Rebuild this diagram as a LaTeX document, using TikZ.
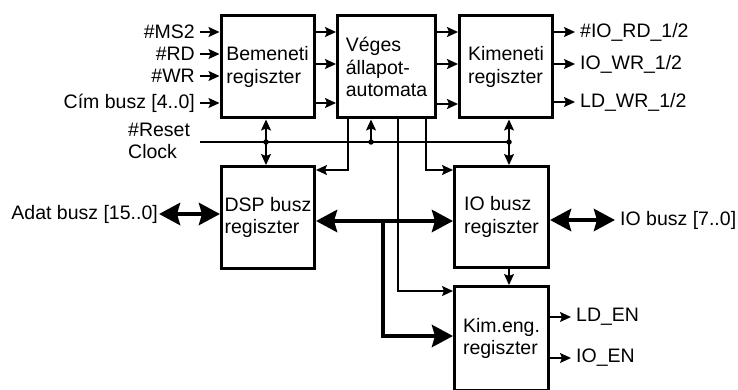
\documentclass[tikz,border=0pt]{standalone}
\usepackage{fontspec}
\setmainfont{Liberation Sans}
\usetikzlibrary{arrows.meta}
\newcommand\diagfont{\fontsize{19.5}{22.5}\selectfont}

\begin{document}
\begin{tikzpicture}[x=1pt, y=-1pt,
    reg/.style={draw, line width=3pt, align=left, inner sep=2pt, font=\diagfont},
    lbl/.style={inner xsep=5pt, inner ysep=1pt, font=\diagfont},
    sig/.style={-{Stealth[length=11pt,width=10pt,inset=2pt]}, line width=1.3pt},
    wire/.style={line width=1.3pt},
    busarr/.style={{Stealth[length=21pt,width=22pt,inset=3pt]}-{Stealth[length=21pt,width=22pt,inset=3pt]}, line width=4.5pt},
    busone/.style={-{Stealth[length=21pt,width=22pt,inset=3pt]}, line width=4.5pt},
    dot/.style={circle, fill, inner sep=0pt, minimum size=5.5pt}
  ]
    \useasboundingbox (0,0) rectangle (738,390);

    % registers
    \node[reg, minimum width=93pt, minimum height=102pt] (bem)  at (267.5,67)  {Bemeneti\\regiszter};
    \node[reg, minimum width=98pt, minimum height=102pt] (veg)  at (386.5,67)  {Véges\\állapot-\\automata};
    \node[reg, minimum width=93pt, minimum height=102pt] (kim)  at (506,67)    {Kimeneti\\regiszter};
    \node[reg, minimum width=93pt, minimum height=102pt] (dsp)  at (268,217.5) {DSP busz\\regiszter};
    \node[reg, minimum width=94pt, minimum height=101pt] (iob)  at (501.5,217) {IO busz\\regiszter};
    \node[reg, minimum width=94pt, minimum height=104pt] (keng) at (501.5,338.5) {Kim.eng.\\regiszter};

    % inputs
    \foreach \name/\txt/\y in {ms2/\#MS2/32, rd/\#RD/54, wr/\#WR/76, cim/Cím busz [4..0]/103}{
      \node[lbl, anchor=east] (\name) at (200,\y) {\txt};
      \draw[sig] (\name.east) -- (\name.east -| bem.west);
    }

    % register to register
    \foreach \y in {32,64,103}
      \draw[sig] (bem.east |- 0,\y) -- (veg.west |- 0,\y);
    \foreach \y in {32,64,104}
      \draw[sig] (veg.east |- 0,\y) -- (kim.west |- 0,\y);

    % outputs
    \node[lbl, anchor=west] (iord) at (575,32)  {\#IO\_RD\_1/2};
    \node[lbl, anchor=west] (iowr) at (575,64)  {IO\_WR\_1/2};
    \node[lbl, anchor=west] (ldwr) at (575,102) {LD\_WR\_1/2};
    \foreach \o in {iord, iowr, ldwr}
      \draw[sig] (kim.east |- \o.west) -- (\o.west);

    % reset and clock
    \node[lbl, align=left, anchor=west, inner xsep=0pt] (rst) at (128,141) {\#Reset\\Clock};
    \coordinate (clk) at (200,142);
    \coordinate (j1) at (266,142);
    \coordinate (j2) at (371,142);
    \coordinate (j3) at (509,142);
    \draw[wire] (clk) -- (j3);
    \foreach \j in {j1, j2, j3}
      \node[dot] at (\j) {};
    \draw[sig] (j1) -- (j1 |- bem.south);
    \draw[sig] (j1) -- (j1 |- dsp.north);
    \draw[sig] (j2) -- (j2 |- veg.south);
    \draw[sig] (j3) -- (j3 |- kim.south);
    \draw[sig] (j3) -- (j3 |- iob.north);

    % state machine control lines
    \coordinate (t1) at (348,170);
    \coordinate (t2) at (426,170);
    \coordinate (t3) at (398,291);
    \draw[sig] (t1 |- veg.south) |- (dsp.east |- t1);
    \draw[sig] (t2 |- veg.south) |- (iob.west |- t2);
    \draw[sig] (t3 |- veg.south) |- (keng.west |- t3);

    % data buses
    \coordinate (bus) at (0,221);
    \coordinate (br) at (383,336);
    \draw[busarr] (dsp.east |- bus) -- (iob.west |- bus);
    \draw[busone] (br |- bus) |- (keng.west |- br);

    \node[lbl, anchor=east, inner xsep=1pt] (adat) at (159,214) {Adat busz [15..0]};
    \draw[busarr] (adat.east) -- (dsp.west |- adat.east);

    \node[lbl, anchor=west] (iobus) at (615,220) {IO busz [7..0]};
    \draw[busarr] (iob.east |- iobus.west) -- (iobus.west);

    \draw[sig] (j3 |- iob.south) -- (j3 |- keng.north);

    % enable outputs
    \node[lbl, anchor=west] (lden) at (571,317) {LD\_EN};
    \node[lbl, anchor=west] (ioen) at (571,358) {IO\_EN};
    \foreach \o in {lden, ioen}
      \draw[sig] (keng.east |- \o.west) -- (\o.west);
\end{tikzpicture}
\end{document}
